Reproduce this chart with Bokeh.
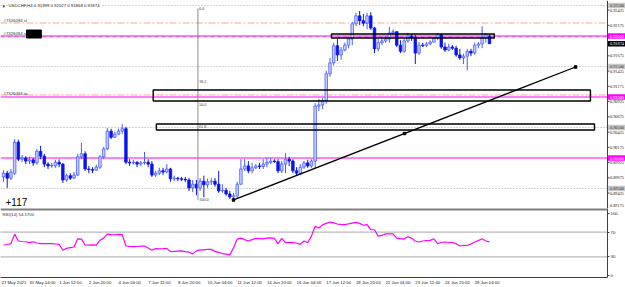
from bokeh.plotting import figure
from bokeh.layouts import column
from bokeh.models import Range1d, FixedTicker, Label, Span, ColumnDataSource
from bokeh.embed import file_html
from bokeh.resources import INLINE

# ---------------- data (USDCHF H4) ----------------
opens = [0.8969,0.8975,0.8967,0.8975,0.9026,0.8998,0.9000,0.8995,0.8997,0.8992,
 0.9011,0.9003,0.8990,0.8987,0.8987,0.8993,0.8990,0.8964,0.8971,0.8967,
 0.8972,0.9002,0.9007,0.8982,0.8981,0.8980,0.8985,0.9002,0.9015,0.9044,
 0.9034,0.9039,0.9044,0.9048,0.8993,0.8992,0.8993,0.8990,0.8992,0.8993,
 0.8990,0.8972,0.8975,0.8979,0.8977,0.8982,0.8966,0.8967,0.8966,0.8965,
 0.8964,0.8951,0.8957,0.8951,0.8962,0.8956,0.8961,0.8962,0.8957,0.8946,
 0.8947,0.8941,0.8936,0.8938,0.8957,0.8982,0.8987,0.8979,0.8984,0.8987,
 0.8986,0.8990,0.8993,0.8995,0.8994,0.8979,0.8990,0.8998,0.8995,0.8979,
 0.8975,0.8985,0.8992,0.8987,0.8995,0.9085,0.9087,0.9094,0.9138,0.9156,
 0.9184,0.9169,0.9177,0.9185,0.9195,0.9220,0.9233,0.9225,0.9221,0.9233,
 0.9213,0.9179,0.9189,0.9192,0.9195,0.9205,0.9207,0.9185,0.9175,0.9192,
 0.9200,0.9197,0.9172,0.9185,0.9184,0.9187,0.9190,0.9197,0.9202,0.9182,
 0.9177,0.9182,0.9180,0.9169,0.9164,0.9167,0.9175,0.9172,0.9185,0.9187,
 0.9198,0.91999]
highs = [0.8980,0.8979,0.8982,0.9031,0.9030,0.9005,0.9003,0.9002,0.9000,0.9015,
 0.9020,0.9007,0.8993,0.8992,0.8997,0.8998,0.8992,0.8974,0.8975,0.8977,
 0.9007,0.9025,0.9011,0.8987,0.8985,0.8989,0.9005,0.9018,0.9049,0.9048,
 0.9043,0.9048,0.9056,0.9051,0.8998,0.8997,0.8995,0.8995,0.9010,0.8998,
 0.8995,0.8979,0.8984,0.8984,0.8990,0.8984,0.8971,0.8969,0.8969,0.8969,
 0.8967,0.8964,0.8964,0.8967,0.8971,0.8966,0.8967,0.8967,0.8979,0.8957,
 0.8951,0.8946,0.8943,0.8961,0.8998,0.8998,0.8995,0.8992,0.8990,0.8992,
 0.8998,0.9000,0.9000,0.8998,0.8998,0.8995,0.9008,0.9002,0.8998,0.8985,
 0.8990,0.8995,0.8997,0.8998,0.9090,0.9097,0.9098,0.9143,0.9164,0.9189,
 0.9195,0.9182,0.9189,0.9198,0.9223,0.9238,0.9241,0.9236,0.9238,0.9239,
 0.9215,0.9195,0.9197,0.9200,0.9215,0.9211,0.9208,0.9193,0.9195,0.9205,
 0.9203,0.9202,0.9190,0.9189,0.9190,0.9193,0.9198,0.9205,0.9203,0.9189,
 0.9187,0.9185,0.9184,0.9179,0.9171,0.9179,0.9179,0.9189,0.9190,0.9216,
 0.9205,0.92027]
lows = [0.8961,0.8951,0.8964,0.8972,0.8995,0.8993,0.8990,0.8990,0.8987,0.8989,
 0.8998,0.8985,0.8982,0.8984,0.8984,0.8985,0.8959,0.8961,0.8964,0.8966,
 0.8971,0.8998,0.8979,0.8975,0.8975,0.8979,0.8982,0.8998,0.9013,0.9031,
 0.9033,0.9038,0.9039,0.8990,0.8987,0.8989,0.8985,0.8987,0.8989,0.8985,
 0.8969,0.8969,0.8972,0.8972,0.8975,0.8961,0.8962,0.8962,0.8962,0.8961,
 0.8946,0.8944,0.8939,0.8946,0.8936,0.8951,0.8956,0.8953,0.8943,0.8943,
 0.8938,0.8933,0.8931,0.8933,0.8956,0.8979,0.8975,0.8975,0.8982,0.8982,
 0.8982,0.8985,0.8990,0.8992,0.8975,0.8975,0.8975,0.8987,0.8975,0.8971,
 0.8972,0.8982,0.8984,0.8984,0.8984,0.9077,0.9080,0.9089,0.9133,0.9152,
 0.9159,0.9161,0.9175,0.9180,0.9185,0.9216,0.9218,0.9216,0.9211,0.9210,
 0.9172,0.9175,0.9185,0.9189,0.9189,0.9202,0.9182,0.9172,0.9172,0.9189,
 0.9192,0.9154,0.9169,0.9182,0.9182,0.9185,0.9189,0.9193,0.9179,0.9174,
 0.9175,0.9177,0.9166,0.9161,0.9154,0.9144,0.9167,0.9169,0.9180,0.9180,
 0.9189,0.91868]
closes = [0.8975,0.8967,0.8977,0.9026,0.8998,0.9000,0.8995,0.8997,0.8992,0.9011,
 0.9003,0.8990,0.8987,0.8988,0.8993,0.8990,0.8964,0.8971,0.8967,0.8972,
 0.9002,0.9007,0.8982,0.8981,0.8980,0.8985,0.9002,0.9015,0.9044,0.9034,
 0.9039,0.9044,0.9048,0.8993,0.8992,0.8993,0.8990,0.8992,0.8993,0.8990,
 0.8972,0.8975,0.8979,0.8977,0.8982,0.8966,0.8967,0.8966,0.8965,0.8964,
 0.8951,0.8957,0.8951,0.8962,0.8956,0.8961,0.8962,0.8957,0.8946,0.8947,
 0.8941,0.8936,0.8938,0.8957,0.8982,0.8987,0.8979,0.8984,0.8987,0.8986,
 0.8990,0.8993,0.8995,0.8994,0.8979,0.8990,0.8998,0.8995,0.8979,0.8975,
 0.8985,0.8992,0.8987,0.8995,0.9085,0.9087,0.9094,0.9138,0.9156,0.9184,
 0.9169,0.9177,0.9185,0.9195,0.9220,0.9233,0.9225,0.9221,0.9233,0.9213,
 0.9179,0.9189,0.9192,0.9195,0.9205,0.9207,0.9185,0.9175,0.9192,0.9200,
 0.9197,0.9172,0.9185,0.9184,0.9187,0.9190,0.9197,0.9202,0.9182,0.9177,
 0.9182,0.9180,0.9169,0.9164,0.9167,0.9175,0.9172,0.9185,0.9187,0.9198,
 0.9202,0.91874]
rsi = [49.2,50.0,51.3,66.7,55.6,54.8,54.4,52.9,54.4,52.4,
 51.3,51.6,51.3,51.3,50.8,50.3,40.8,43.7,44.9,46.0,
 59.2,58.7,49.2,48.9,49.4,49.0,56.7,60.3,66.7,65.9,
 65.4,66.2,65.9,47.6,47.1,46.7,46.8,47.3,47.6,44.4,
 40.8,43.3,42.9,43.2,43.7,38.6,38.9,39.4,39.7,38.4,
 37.6,34.9,39.7,41.3,41.3,42.1,42.1,38.9,37.3,35.4,
 34.4,33.3,44.9,58.7,60.3,57.9,55.6,57.9,59.8,59.5,
 59.2,60.3,60.6,59.8,51.3,59.8,52.9,52.9,52.9,52.4,
 50.3,55.6,52.9,63.5,79.4,76.7,81.7,84.1,86.2,84.9,
 83.0,82.5,82.1,83.3,84.6,85.7,84.1,81.0,82.1,74.1,
 73.8,63.5,64.6,67.1,67.1,67.1,60.3,59.2,59.2,62.4,
 60.3,55.6,54.0,55.6,56.3,56.7,59.2,51.3,53.2,54.0,
 53.2,53.2,51.3,47.6,48.7,48.4,50.8,54.0,56.3,59.2,
 55.6,54.17]

time_labels = ["27 May 2021","31 May 04:00","1 Jun 12:00","2 Jun 20:00","4 Jun 04:00",
 "7 Jun 12:00","8 Jun 20:00","10 Jun 04:00","11 Jun 12:00","14 Jun 20:00",
 "16 Jun 04:00","17 Jun 12:00","18 Jun 20:00","22 Jun 04:00","23 Jun 12:00",
 "24 Jun 20:00","28 Jun 04:00"]
time_label_bars = [-1,7,15,23,31,39,47,55,63,71,79,87,95,103,111,119,127]

price_ticks = [0.92425,0.92175,0.91675,0.91425,0.91175,0.90925,0.90675,
 0.90425,0.90175,0.89925,0.89675,0.89425,0.89175]
round_levels = [0.92000,0.91000,0.90000]
half_levels = [0.92500,0.91500,0.90500,0.89500]
sl_price, tp_price, entry_price = 0.92213, 0.91033, 0.91985
bid_price = 0.91874
rsi_levels = [70, 30]
rsi_ticks = [0, 30, 70, 100]

rect_left = [88.4, 40.35, 41.2]
rect_right = [132.3, 158.2, 159.3]
rect_top = [0.92033, 0.91115, 0.90558]
rect_bottom = [0.91967, 0.90935, 0.90459]

fib_time, fib_high, fib_low = 52.4, 0.92450, 0.89312
fib_levels = [0.0, 38.2, 50.0, 61.8, 100.0]

trend_x = [62, 154.2]
trend_y = [0.89312, 0.91492]

# ---------------- layout constants ----------------
FONT = "Liberation Sans"
FSPX = 4.3
FS = f"{FSPX}px"
BAR_PX = 3.71                 # pixels per bar
x_lo = -0.81                  # index at left edge
ax_x = x_lo + 607 / BAR_PX    # price scale line
x_full = x_lo + 625 / BAR_PX  # right edge of canvas
PX = 0.00016393               # price per pixel
p_top = 0.92582
p_bot = p_top - 208 * PX
r_top, r_bot = 108.06, -3.23

# Arial/Liberation Sans advance widths (em) for label placement
CW = {" ": 0.278, ":": 0.278, ".": 0.278, "M": 0.833, "a": 0.556, "y": 0.5,
      "J": 0.5, "u": 0.556, "n": 0.556}
def text_w(s):
    return sum(CW.get(ch, 0.556) for ch in s) * FSPX

n = len(closes)
idx = list(range(n))
bull = [c >= o for o, c in zip(opens, closes)]
src = ColumnDataSource(dict(
    x=idx, o=opens, h=highs, l=lows, c=closes,
    top=[max(o, c) for o, c in zip(opens, closes)],
    bot=[min(o, c) for o, c in zip(opens, closes)],
    fill=["#c9d0ff" if b else "#0a14e6" for b in bull],
    line=["#4a5cff" if b else "#0a14e6" for b in bull],
))

p = figure(frame_width=625, frame_height=208, x_range=Range1d(x_lo, x_full),
           y_range=Range1d(p_bot, p_top), x_axis_location=None,
           y_axis_location=None, toolbar_location=None, output_backend="svg",
           min_border_left=0, min_border_top=0, min_border_bottom=0,
           min_border_right=0, outline_line_color=None, background_fill_color="white")
p.grid.visible = False

def hline(levels, **kw):
    p.segment(x0=[x_lo] * len(levels), x1=[ax_x] * len(levels), y0=levels, y1=levels, **kw)

hline(half_levels, line_color="#a8a8a8", line_dash="1 2", line_width=1)
hline([entry_price], line_color="#a0a0a0", line_dash="4 3", line_width=1)
hline([sl_price, tp_price], line_color="#f7a98a", line_dash="7 2 2 2", line_width=1)
hline(round_levels, line_color="#ff00ff", line_width=1)

# candles
p.segment(x0="x", y0="h", x1="x", y1="l", source=src, line_color="line", line_width=1)
p.vbar(x="x", width=0.68, top="top", bottom="bot", source=src,
       fill_color="fill", line_color="line", line_width=0.8)

# fibonacci
p.segment(x0=[fib_time], y0=[fib_high], x1=[fib_time], y1=[fib_low],
          line_color="#8c8c8c", line_width=1)
fib_prices = [fib_high - lv / 100.0 * (fib_high - fib_low) for lv in fib_levels]
p.text(x=[fib_time] * len(fib_levels), y=fib_prices, text=[f"{lv:.1f}" for lv in fib_levels],
       x_offset=1, text_baseline="middle", text_align="left",
       text_font=FONT, text_font_size=FS, text_color="#404040")

# rectangles
p.quad(left=rect_left, right=rect_right, top=rect_top, bottom=rect_bottom,
       fill_color=None, line_color="black", line_width=1.4)

# trend line
p.line(trend_x, trend_y, line_color="black", line_width=1.3)
p.scatter([trend_x[0], sum(trend_x) / 2, trend_x[1]],
          [trend_y[0], sum(trend_y) / 2, trend_y[1]],
          marker="square", size=2.5, color="black")

# redacted box
p.quad(left=[6.2], right=[10.2], top=[0.92098], bottom=[0.91967],
       fill_color="black", line_color="black")

# price scale (right)
p.segment(x0=[ax_x], x1=[ax_x], y0=[p_bot], y1=[p_top], line_color="#404040", line_width=1)
p.segment(x0=[ax_x] * len(price_ticks), x1=[ax_x + 2 / BAR_PX] * len(price_ticks),
          y0=price_ticks, y1=price_ticks, line_color="#404040", line_width=1)
label_y = [max(t, p_bot + 2.6 * PX) for t in price_ticks]   # keep the lowest label inside
p.text(x=[ax_x] * len(price_ticks), y=label_y, text=[f"{t:.5f}" for t in price_ticks],
       x_offset=2.5, text_baseline="middle", text_align="left",
       text_font=FONT, text_font_size=FS, text_color="#202020")

special_prices = [0.92500, 0.92000, bid_price, 0.91500, 0.91000, 0.90500, 0.90000, 0.89500]
special_bg = ["#c8c8c8", "#ff00ff", "#000000", "#c8c8c8", "#ff00ff", "#c8c8c8", "#ff00ff", "#c8c8c8"]
special_fg = ["#303030", "#ffffff", "#ffffff", "#303030", "#ffffff", "#303030", "#ffffff", "#303030"]
hb = 2.7 * PX
p.quad(left=[ax_x + 0.5 / BAR_PX] * len(special_prices), right=[x_full] * len(special_prices),
       top=[s + hb for s in special_prices], bottom=[s - hb for s in special_prices],
       fill_color=special_bg, line_color=None)
p.text(x=[ax_x] * len(special_prices), y=special_prices,
       text=[f"{s:.5f}" for s in special_prices], x_offset=2.5,
       text_baseline="middle", text_align="left", text_font=FONT,
       text_font_size=FS, text_color=special_fg)

# texts
p.add_layout(Label(x=x_lo, y=p_top - 5 * PX, x_offset=8,
                   text="USDCHF,H4  0.91999 0.92027 0.91868 0.91874",
                   text_font=FONT, text_font_size=FS, text_color="#202020",
                   text_baseline="middle", background_fill_color="white"))
p.add_layout(Label(x=x_lo, y=p_top - 5 * PX, x_offset=2, text="\u25be",
                   text_font="DejaVu Sans", text_font_size="5px", text_color="#303030",
                   text_baseline="middle"))
for t, yy in (("#7326094 sl", 19.5), ("#7326094 s", 32.5), ("#7326094 tp", 92.5)):
    p.add_layout(Label(x=x_lo, y=p_top - yy * PX, x_offset=3, text=t, text_font=FONT,
                       text_font_size=FS, text_color="#303030", text_baseline="middle"))
p.add_layout(Label(x=x_lo, y=p_top - 201 * PX, x_offset=5, text="+117", text_font=FONT,
                   text_font_size="10px", text_color="black", text_baseline="middle"))

# ---------------- RSI pane ----------------
r = figure(frame_width=607, frame_height=69, x_range=Range1d(x_lo, ax_x),
           y_range=Range1d(r_bot, r_top), x_axis_location="below",
           y_axis_location="right", toolbar_location=None, output_backend="svg",
           min_border_left=0, min_border_top=0, min_border_bottom=10,
           min_border_right=18, outline_line_color=None)
r.grid.visible = False
ry = r.yaxis[0]
ry.ticker = FixedTicker(ticks=rsi_ticks)
ry.major_label_overrides = {t: str(t) for t in rsi_ticks}
ry.major_label_text_font = FONT
ry.major_label_text_font_size = FS
ry.major_label_text_color = "#202020"
ry.major_label_standoff = 1
ry.major_tick_out = 2
ry.major_tick_in = 0
ry.minor_tick_out = 0
ry.minor_tick_in = 0
ry.axis_line_color = "#404040"
ry.major_tick_line_color = "#404040"

# time axis: each label starts at its bar (MT4 style), so the tick sits at the label centre
time_ticks = []
for t, b in zip(time_labels, time_label_bars):
    left_px = 1.0 if b < 0 else 3 + b * BAR_PX
    time_ticks.append(x_lo + (left_px + text_w(t) / 2) / BAR_PX)
rx = r.xaxis[0]
rx.ticker = FixedTicker(ticks=time_ticks)
rx.major_label_overrides = {tk: t for tk, t in zip(time_ticks, time_labels)}
rx.major_label_text_font = FONT
rx.major_label_text_font_size = FS
rx.major_label_text_color = "#202020"
rx.major_label_standoff = 2
rx.major_tick_out = 0
rx.major_tick_in = 0
rx.minor_tick_out = 0
rx.minor_tick_in = 0
rx.axis_line_color = "#404040"

r.add_layout(Span(location=107.3, dimension="width", line_color="#808080", line_width=3))
for lv in rsi_levels:
    r.add_layout(Span(location=lv, dimension="width", line_color="#505050",
                      line_dash="1 1", line_width=1))
r.line(idx, rsi, line_color="#ff00ff", line_width=1.2)
r.add_layout(Label(x=x_lo, y=98.4, x_offset=2, text=f"RSI(14) {rsi[-1]:.4f}",
                   text_font=FONT, text_font_size=FS, text_color="#303030",
                   text_baseline="middle"))

layout = column(p, r, spacing=0)
open("out.html", "w").write(file_html(layout, INLINE))
